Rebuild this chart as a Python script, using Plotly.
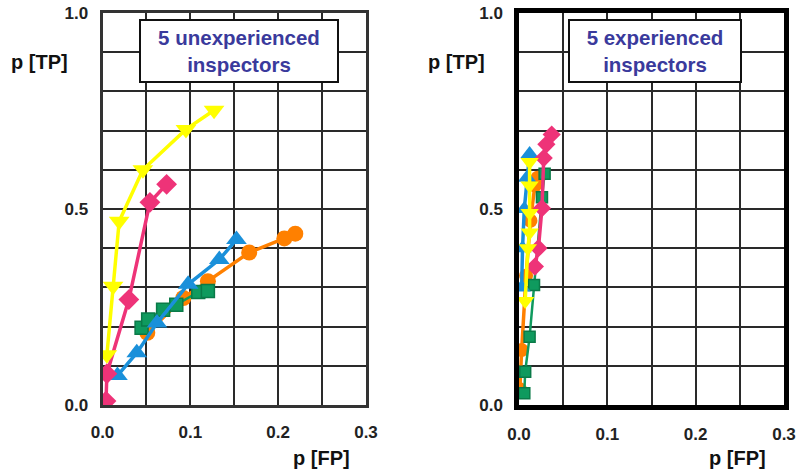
import plotly.graph_objects as go

# ---- data: p[FP] (x) and p[TP] (y) per inspector, both panels ----
# Unexperienced inspectors
un_orange_x = [0.051, 0.092, 0.120, 0.167, 0.207, 0.2195]
un_orange_y = [0.184, 0.273, 0.316, 0.389, 0.425, 0.437]
un_green_x = [0.0445, 0.052, 0.069, 0.084, 0.109, 0.120]
un_green_y = [0.197, 0.218, 0.243, 0.256, 0.288, 0.291]
un_blue_x = [0.017, 0.039, 0.062, 0.0975, 0.133, 0.1525]
un_blue_y = [0.075, 0.133, 0.209, 0.308, 0.371, 0.422]
un_pink_x = [0.004, 0.005, 0.030, 0.054, 0.073]
un_pink_y = [0.010, 0.080, 0.269, 0.517, 0.563]
un_yellow_x = [0.005, 0.012, 0.019, 0.046, 0.095, 0.127]
un_yellow_y = [0.128, 0.303, 0.469, 0.600, 0.703, 0.752]

# Experienced inspectors
ex_orange_x = [0.001, 0.003, 0.008, 0.013, 0.018, 0.021]
ex_orange_y = [0.040, 0.140, 0.330, 0.470, 0.560, 0.580]
ex_green_x = [0.006, 0.007, 0.012, 0.017, 0.026, 0.029]
ex_green_y = [0.030, 0.085, 0.174, 0.306, 0.530, 0.590]
ex_blue_x = [0.003, 0.004, 0.006, 0.009, 0.012]
ex_blue_y = [0.300, 0.400, 0.500, 0.580, 0.640]
ex_pink_x = [0.018, 0.022, 0.026, 0.028, 0.031, 0.037]
ex_pink_y = [0.353, 0.400, 0.502, 0.630, 0.665, 0.690]
ex_yellow_x = [0.007, 0.010, 0.012, 0.012, 0.012, 0.012]
ex_yellow_y = [0.265, 0.400, 0.440, 0.490, 0.560, 0.620]

x_ticks = [0.0, 0.05, 0.1, 0.15, 0.2, 0.25, 0.3]
x_labels = ["0.0", "", "0.1", "", "0.2", "", "0.3"]
y_ticks = [i / 10 for i in range(11)]
y_labels = ["0.0", "", "", "", "", "0.5", "", "", "", "", "1.0"]

panel_titles = ["5 unexperienced<br>inspectors", "5 experienced<br>inspectors"]

ORANGE = "#FF8000"
GREEN = "#0F9A5E"
BLUE = "#1A90DA"
PINK = "#EE3378"
YELLOW = "#FFFF00"

W, H = 799, 472


def px(x):
    return x / W


def py(y):
    return 1 - y / H


FONT = "Liberation Sans, Arial, sans-serif"

fig = go.Figure()

series = [
    ("orange", ORANGE, "circle", 16, un_orange_x, un_orange_y, ex_orange_x, ex_orange_y),
    ("green", GREEN, "square", 13, un_green_x, un_green_y, ex_green_x, ex_green_y),
    ("blue", BLUE, "triangle-up", 18, un_blue_x, un_blue_y, ex_blue_x, ex_blue_y),
    ("pink", PINK, "diamond", 16, un_pink_x, un_pink_y, ex_pink_x, ex_pink_y),
    ("yellow", YELLOW, "triangle-down", 18, un_yellow_x, un_yellow_y, ex_yellow_x, ex_yellow_y),
]

for name, col, sym, size, ux, uy, ex, ey in series:
    line_w = 3.5 if name != "green" else 2.5
    mk = dict(symbol=sym, size=size, color=col)
    if name == "green":
        mk["line"] = dict(color="#0A7A48", width=1.5)
    fig.add_trace(go.Scatter(x=ux, y=uy, mode="lines+markers", name=name,
                             line=dict(color=col, width=line_w), marker=mk,
                             xaxis="x", yaxis="y", showlegend=False))
    fig.add_trace(go.Scatter(x=ex, y=ey, mode="lines+markers", name=name,
                             line=dict(color=col, width=line_w), marker=dict(mk, size=size - 2),
                             xaxis="x2", yaxis="y2", showlegend=False))

tick_font = dict(family=FONT, size=17, color="#222", weight="bold")


def xaxis(domain, anchor, frame_col, frame_w):
    return dict(domain=domain, anchor=anchor, range=[0, 0.3], tickvals=x_ticks,
                ticktext=x_labels, showgrid=True, gridcolor="#2a2a2a", gridwidth=2,
                showline=True, linecolor=frame_col, linewidth=frame_w, mirror=True,
                zeroline=False, ticks="", tickfont=tick_font, ticklabelstandoff=10,
                automargin=False, fixedrange=True)


def yaxis(domain, anchor, frame_col, frame_w):
    return dict(domain=domain, anchor=anchor, range=[0, 1.0], tickvals=y_ticks,
                ticktext=y_labels, showgrid=True, gridcolor="#2a2a2a", gridwidth=2,
                showline=True, linecolor=frame_col, linewidth=frame_w, mirror=True,
                zeroline=False, ticks="", tickfont=tick_font, ticklabelstandoff=8,
                automargin=False, fixedrange=True)


ydom = [py(405), py(13)]
fig.update_layout(
    width=W, height=H,
    margin=dict(l=0, r=0, t=0, b=0, autoexpand=False),
    paper_bgcolor="white", plot_bgcolor="white",
    xaxis=xaxis([px(102.5), px(366)], "y", "#333333", 3),
    yaxis=yaxis(ydom, "x", "#333333", 3),
    xaxis2=xaxis([px(519), px(784)], "y2", "#000000", 4.5),
    yaxis2=yaxis(ydom, "x2", "#000000", 4.5),
)

title_font = dict(family=FONT, size=20, color="#111", weight="bold")
annotations = [
    dict(x=px(39), y=py(62), text="p [TP]"),
    dict(x=px(456), y=py(62), text="p [TP]"),
    dict(x=px(321), y=py(458), text="p [FP]"),
    dict(x=px(737), y=py(458), text="p [FP]"),
]
for a in annotations:
    fig.add_annotation(xref="paper", yref="paper", showarrow=False,
                       xanchor="center", yanchor="middle", font=title_font, **a)

box_font = dict(family=FONT, size=20.5, color="#3A3A9C", weight="bold")
for text, cx, cy, w in [(panel_titles[0], 239, 51.5, 188), (panel_titles[1], 655, 51.5, 162)]:
    fig.add_annotation(xref="paper", yref="paper", x=px(cx), y=py(cy), text=text,
                       showarrow=False, xanchor="center", yanchor="middle",
                       font=box_font, bgcolor="white", bordercolor="#111",
                       borderwidth=2, borderpad=4, width=w, height=52, align="center")

fig.write_html("out.html")
